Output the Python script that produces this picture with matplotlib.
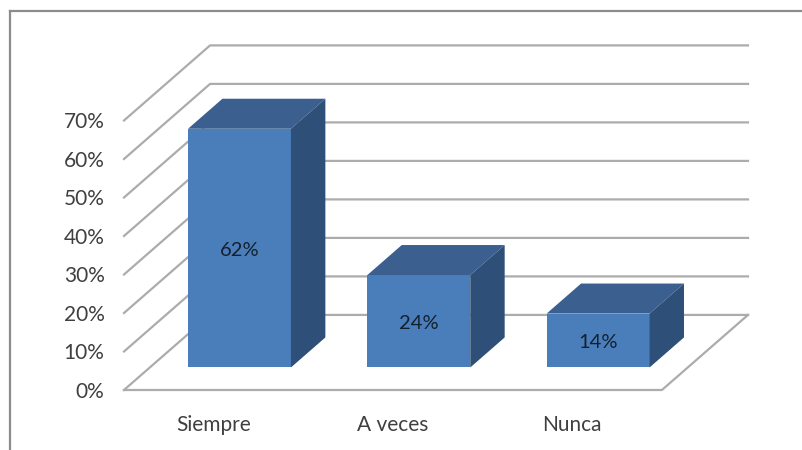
# Barras 3D oblicuas (estilo Excel) dibujadas sobre ejes 2D
import matplotlib

matplotlib.use("Agg")
import matplotlib.pyplot as plt
from matplotlib.lines import Line2D
from matplotlib.patches import Polygon

plt.rcParams["font.family"] = ["Lato", "DejaVu Sans"]

categorias = ["Siempre", "A veces", "Nunca"]
valores = [62, 24, 14]
etiquetas = ["62%", "24%", "14%"]
ticks_y = [0, 10, 20, 30, 40, 50, 60, 70]

# proyeccion oblicua: lo que se desplaza el fondo del grafico
DX = 0.48
DY = 19.5
BAR_W = 0.574
BAR_INI = 0.3  # profundidad de la cara frontal de la barra
BAR_PROF = 0.4

GRID = "#acacac"
FRENTE = "#4a7ebb"
TAPA = "#3b6090"
LADO = "#2e5078"
TEXTO = "#404040"

fig = plt.figure(figsize=(8.03, 4.5), dpi=100)
ax = fig.add_axes([124 / 803, 60 / 450, 624 / 803, 344.6 / 450])
ax.set_xlim(0, 3 + DX)
ax.set_ylim(0, 70 + DY)
for s in ax.spines.values():
    s.set_visible(False)
ax.patch.set_alpha(0)

# marco de la imagen
marco = dict(color="#8c8c8c", lw=1.6, transform=fig.transFigure)
fig.add_artist(Line2D([10 / 803, 10 / 803], [0, 1 - 11 / 450], **marco))
fig.add_artist(Line2D([10 / 803, 1], [1 - 11 / 450, 1 - 11 / 450], **marco))

# rejilla: diagonal en la pared izquierda y horizontal en el fondo
for v in ticks_y:
    ax.plot([0, DX, 3 + DX], [v, v + DY, v + DY], color=GRID, lw=1.6, zorder=1,
            clip_on=False, solid_joinstyle="miter")
# suelo
ax.plot([0, 3, 3 + DX], [0, 0, DY], color=GRID, lw=1.6, zorder=1, clip_on=False)

# barras
for i, v in enumerate(valores):
    x0 = i + 0.5 + BAR_INI * DX - BAR_W / 2
    y0 = BAR_INI * DY
    x1 = x0 + BAR_W
    px = BAR_PROF * DX
    py = BAR_PROF * DY
    ax.bar(x0, v, width=BAR_W, bottom=y0, align="edge", color=FRENTE, zorder=3)
    ax.add_patch(Polygon([(x0, y0 + v), (x1, y0 + v), (x1 + px, y0 + v + py), (x0 + px, y0 + v + py)],
                         closed=True, color=TAPA, lw=0, zorder=3))
    ax.add_patch(Polygon([(x1, y0), (x1 + px, y0 + py), (x1 + px, y0 + v + py), (x1, y0 + v)],
                         closed=True, color=LADO, lw=0, zorder=3))
    ax.annotate(etiquetas[i], (x0 + BAR_W / 2, y0 + v / 2), xytext=(0, -1.5), textcoords="offset points",
                ha="center", va="center", fontsize=14.5, color="#14202e", zorder=4)

ax.set_xticks([0.5, 1.5, 2.5], categorias)
ax.set_yticks(ticks_y, [f"{t}%" for t in ticks_y])
ax.tick_params(axis="x", length=0, pad=18, labelsize=15, labelcolor=TEXTO)
ax.tick_params(axis="y", length=0, pad=14, labelsize=15, labelcolor=TEXTO)

fig.savefig("out.png", dpi=100)
